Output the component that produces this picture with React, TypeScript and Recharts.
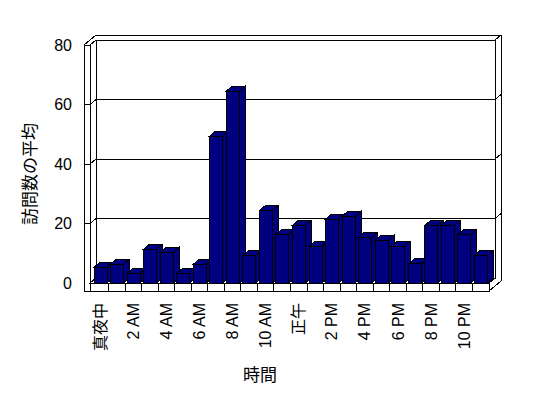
import { Bar, BarChart, CartesianGrid, Customized, XAxis, YAxis } from 'recharts';

const hours = [
  '真夜中', '1 AM', '2 AM', '3 AM', '4 AM', '5 AM', '6 AM', '7 AM', '8 AM', '9 AM', '10 AM', '11 AM',
  '正午', '1 PM', '2 PM', '3 PM', '4 PM', '5 PM', '6 PM', '7 PM', '8 PM', '9 PM', '10 PM', '11 PM',
];
const visits = [
  5.3, 6.3, 3.3, 11.4, 10.3, 3.3, 6.3, 49.4, 64.5, 9.3, 24.4, 16.4,
  19.4, 12.4, 21.5, 22.4, 15.4, 14.4, 12.4, 6.4, 19.4, 19.4, 16.4, 9.3,
];
const yTicks = [0, 20, 40, 60, 80];
const yTitle = '訪問数の平均';
const xTitle = '時間';

const data = hours.map((hour, i) => ({ hour, visits: visits[i] }));

const W = 548;
const H = 398;
const LEFT = 92;
const RIGHT = 489;
const TOP = 45;
const BOTTOM = 283;
const DX = 6;
const DY = -5;
const WALL = 8;
const FLOOR = 8;
const NAVY = '#000080';
const FONT = "'Liberation Sans', Arial, 'Noto Sans CJK JP', sans-serif";

// bar with front, top and right side faces
function Bar3D(props: any) {
  const { x, y, width, height } = props;
  if (height == null || width == null) return null;
  const x2 = x + width;
  const y2 = y + height;
  return (
    <g stroke="#000" strokeWidth={1} fill={NAVY} shapeRendering="crispEdges">
      <polygon points={`${x2},${y} ${x2 + DX},${y + DY} ${x2 + DX},${y2 + DY} ${x2},${y2}`} />
      <polygon points={`${x},${y} ${x + DX},${y + DY} ${x2 + DX},${y + DY} ${x2},${y}`} />
      <rect x={x} y={y} width={width} height={height} />
    </g>
  );
}

// walls and floor of the 3D box (outlines only so the grid stays visible)
function Frame() {
  const oL = LEFT - WALL;
  const iL = LEFT - 2;
  const n = hours.length;
  const step = (RIGHT - LEFT) / n;
  return (
    <g>
      <g stroke="#000" strokeWidth={1} fill="none" shapeRendering="crispEdges">
        <polygon
          points={`${oL},${TOP} ${oL + 2 * DX},${TOP + 2 * DY} ${RIGHT + 2 * DX},${TOP + 2 * DY} ${RIGHT + 2 * DX},${BOTTOM + FLOOR + 2 * DY} ${RIGHT},${BOTTOM + FLOOR} ${oL},${BOTTOM + FLOOR}`}
        />
        <rect x={iL + DX} y={TOP + DY} width={RIGHT - iL} height={BOTTOM - TOP} />
        <rect x={oL} y={TOP} width={iL - oL} height={BOTTOM + FLOOR - TOP} />
        <polygon
          points={`${iL},${BOTTOM} ${RIGHT},${BOTTOM} ${RIGHT + DX},${BOTTOM + DY} ${iL + DX},${BOTTOM + DY}`}
        />
        <rect x={iL} y={BOTTOM} width={RIGHT - iL} height={FLOOR} />
        <line x1={RIGHT + DX} y1={TOP + DY} x2={RIGHT + 2 * DX} y2={TOP + 2 * DY} />
        <line x1={iL} y1={TOP} x2={iL + DX} y2={TOP + DY} />
        {hours.slice(1).map((_, i) => {
          const x = LEFT + (i + 1) * step;
          return <line key={i} x1={x} y1={BOTTOM} x2={x} y2={BOTTOM + FLOOR} />;
        })}
      </g>
      <text
        transform={`translate(30,174) rotate(-90)`}
        textAnchor="middle"
        dominantBaseline="central"
        fontSize={17}
        fontFamily={FONT}
        fill="#000"
      >
        {yTitle}
      </text>
      <text
        x={260}
        y={375}
        textAnchor="middle"
        dominantBaseline="central"
        fontSize={17}
        fontFamily={FONT}
        fill="#000"
      >
        {xTitle}
      </text>
    </g>
  );
}

const gridLine = (p: any) => {
  const { x1, x2, y1, key } = p;
  if (y1 >= BOTTOM - 1) return <g key={key} />;
  const lx = x1 - WALL;
  const ix = x1 - 2;
  return (
    <polyline
      key={key}
      points={`${lx},${y1} ${ix},${y1} ${ix + DX},${y1 + DY} ${x2 + DX},${y1 + DY} ${x2 + 2 * DX},${y1 + 2 * DY}`}
      fill="none"
      stroke="#000"
      strokeWidth={1}
      shapeRendering="crispEdges"
    />
  );
};

const XTick = (p: any) => {
  const { x, y, payload } = p;
  return (
    <text
      transform={`translate(${x},${y + 12}) rotate(-90)`}
      textAnchor="end"
      dominantBaseline="central"
      fontSize={16}
      fontFamily={FONT}
      fill="#000"
    >
      {payload.value}
    </text>
  );
};

const YTick = (p: any) => {
  const { y, payload } = p;
  return (
    <text
      x={LEFT - 20}
      y={y}
      textAnchor="end"
      dominantBaseline="central"
      fontSize={16}
      fontFamily={FONT}
      fill="#000"
    >
      {payload.value}
    </text>
  );
};

export default function App() {
  return (
    <div style={{ position: 'absolute', left: 0, top: 0, background: '#fff' }}>
      <BarChart
        width={W}
        height={H}
        data={data}
        margin={{ top: TOP, right: W - RIGHT, bottom: 35, left: LEFT - 60 }}
      >
        <Customized component={<Frame />} />
        <CartesianGrid vertical={false} horizontal={gridLine} />
        <XAxis
          dataKey="hour"
          interval={1}
          height={80}
          axisLine={false}
          tickLine={false}
          tick={<XTick />}
        />
        <YAxis
          domain={[0, 80]}
          ticks={yTicks}
          width={60}
          axisLine={false}
          tickLine={false}
          tick={<YTick />}
        />
        <Bar dataKey="visits" barSize={13} shape={<Bar3D />} isAnimationActive={false} />
      </BarChart>
    </div>
  );
}
